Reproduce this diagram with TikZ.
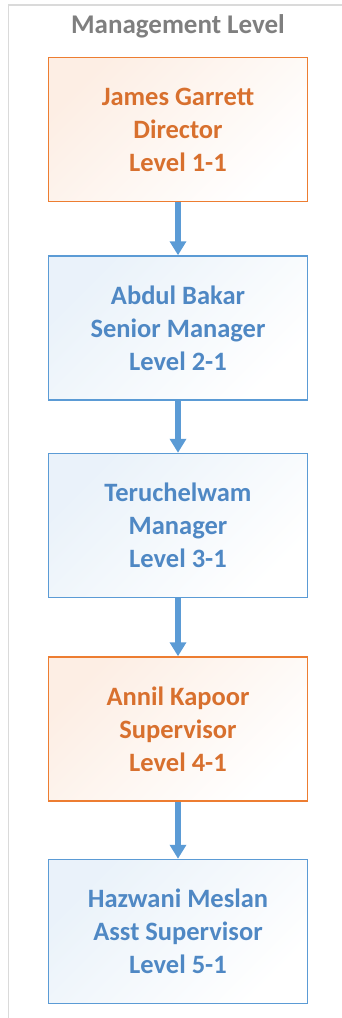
\documentclass[tikz,border=0pt]{standalone}
\usepackage{fontspec}
\setmainfont{Carlito}
\usetikzlibrary{arrows.meta,positioning}
\definecolor{mgmtgray}{HTML}{7F7F7F}
\definecolor{mgmtframe}{HTML}{DADADA}
\definecolor{mgmtorange}{HTML}{ED7D31}
\definecolor{mgmtorangetext}{HTML}{D8702E}
\definecolor{mgmtblue}{HTML}{5B9BD5}
\definecolor{mgmtbluetext}{HTML}{4F88C4}
\begin{document}
\begin{tikzpicture}[x=1pt,y=-1pt,
    levelbox/.style={draw,line width=1.5pt,minimum width=259pt,minimum height=144pt,
      align=center,font=\fontsize{26.5}{33}\selectfont\bfseries},
    orangebox/.style={levelbox,draw=mgmtorange,text=mgmtorangetext,
      top color=mgmtorange!13,bottom color=white,shading angle=45},
    bluebox/.style={levelbox,draw=mgmtblue,text=mgmtbluetext,
      top color=mgmtblue!13,bottom color=white,shading angle=45},
    levelarrow/.style={mgmtblue,line width=6.5pt,-{Triangle[width=16pt,length=14pt]}}]
  \useasboundingbox (0,0) rectangle (342,1018);
  \draw[mgmtframe,line width=1.5pt] (8.5,1030) -- (8.5,5) -- (350,5);
  \node[anchor=base,text=mgmtgray,font=\fontsize{27}{30}\selectfont\bfseries] (title) at (178,33) {Management Level};
  \node[orangebox] (director) at (178,129.5) {James Garrett\\Director\\Level 1-1};
  \node[bluebox,below=53pt of director] (senior) {Abdul Bakar\\Senior Manager\\Level 2-1};
  \node[bluebox,below=52pt of senior] (manager) {Teruchelwam\\Manager\\Level 3-1};
  \node[orangebox,below=58pt of manager] (supervisor) {Annil Kapoor\\Supervisor\\Level 4-1};
  \node[bluebox,below=57pt of supervisor] (asst) {Hazwani Meslan\\Asst Supervisor\\Level 5-1};
  \draw[levelarrow] (director) -- (senior);
  \draw[levelarrow] (senior) -- (manager);
  \draw[levelarrow] (manager) -- (supervisor);
  \draw[levelarrow] (supervisor) -- (asst);
\end{tikzpicture}
\end{document}
